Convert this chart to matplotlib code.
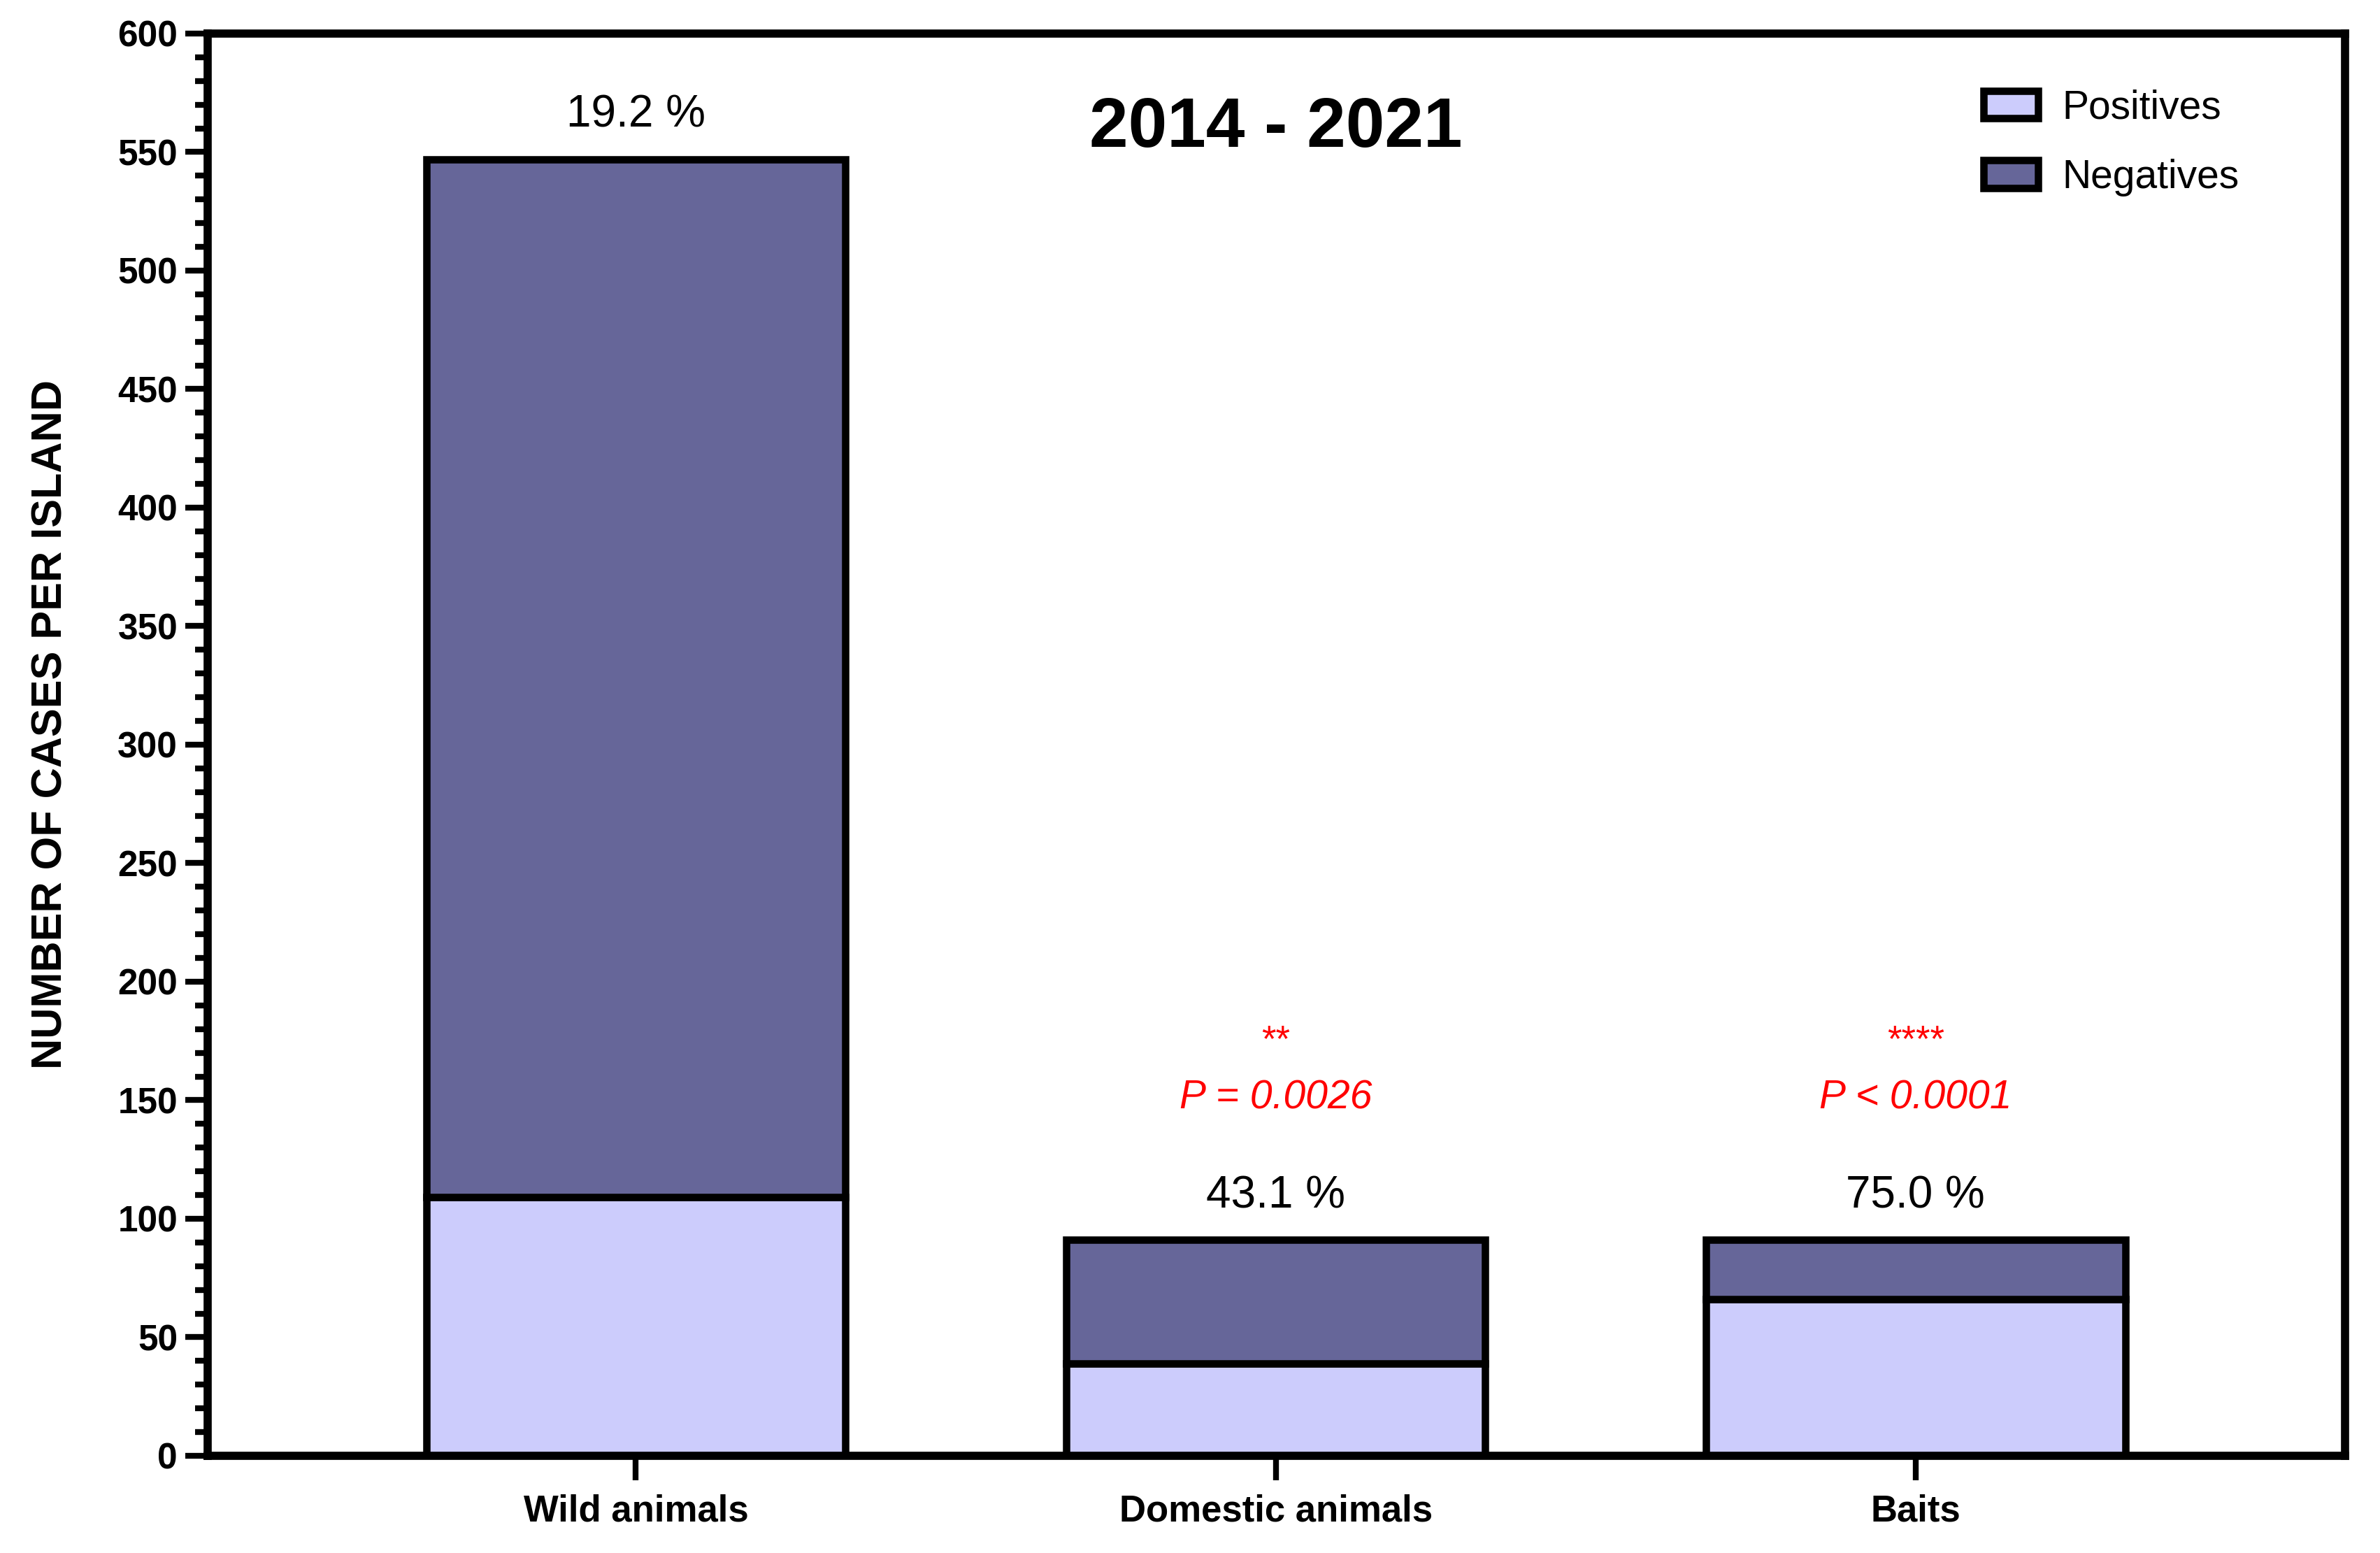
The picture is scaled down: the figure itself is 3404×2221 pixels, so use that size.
import matplotlib
matplotlib.use('Agg')
import matplotlib.pyplot as plt
from matplotlib.ticker import MultipleLocator

# Data.
categories = ['Wild animals', 'Domestic animals', 'Baits']
positives = [109, 39, 66]
negatives = [438, 52, 25]
percent_labels = ['19.2 %', '43.1 %', '75.0 %']
stars = ['', '**', '****']
p_values = ['', 'P = 0.0026', 'P < 0.0001']

plt.rcParams['font.family'] = ['Liberation Sans', 'DejaVu Sans']

light = '#CCCCFC'
dark = '#666699'

figure = plt.figure(figsize=(17.02, 11.105), dpi=200)
axes = figure.add_axes([0.0873, 0.0626, 0.898, 0.9158])

x = list(range(len(categories)))
totals = [p + n for p, n in zip(positives, negatives)]

axes.bar(x, positives, width=0.655, color=light, edgecolor='black', linewidth=3.8, label='Positives', zorder=2)
axes.bar(x, negatives, width=0.655, bottom=positives, color=dark, edgecolor='black', linewidth=3.8, label='Negatives', zorder=2)

# Percentage of positives above each bar.
for xi, total, label in zip(x, totals, percent_labels):
    axes.text(xi, total + 18.5, label, ha='center', va='center', fontsize=23)

# Significance marks in red.
for xi, total, star, p in zip(x, totals, stars, p_values):
    if star:
        axes.text(xi, total + 84, star, ha='center', va='center', fontsize=19, color='#FF0000')
        axes.text(xi, total + 60, p, ha='center', va='center', fontsize=20.5, color='#FF0000', style='italic')

axes.text(1.0, 560, '2014 - 2021', ha='center', va='center', fontsize=36, fontweight='bold')

# Axes limits and ticks.
axes.set_xlim(-0.669, 2.671)
axes.set_ylim(0, 600)
axes.set_xticks(x)
axes.set_xticklabels(categories, fontsize=19, fontweight='bold')
axes.yaxis.set_major_locator(MultipleLocator(50))
axes.yaxis.set_minor_locator(MultipleLocator(10))
for label in axes.get_yticklabels():
    label.set_fontweight('bold')
axes.tick_params(axis='y', which='major', length=11.5, width=3, labelsize=18.5, pad=4)
axes.tick_params(axis='y', which='minor', length=6.5, width=3)
axes.tick_params(axis='x', which='major', length=12.5, width=3, pad=7)

axes.set_ylabel('NUMBER OF CASES PER ISLAND', fontsize=22, fontweight='bold')
axes.yaxis.set_label_coords(-0.064, 0.514)

for side in ['left', 'bottom', 'top', 'right']:
    axes.spines[side].set_linewidth(4.2)

# Legend in the top right corner.
axes.legend(loc='upper left', bbox_to_anchor=(0.831, 0.961), frameon=False, fontsize=20.5,
            handlelength=1.37, handleheight=0.69, handletextpad=0.6, labelspacing=0.8,
            borderpad=0, borderaxespad=0)

figure.savefig('out.png', dpi=200)
